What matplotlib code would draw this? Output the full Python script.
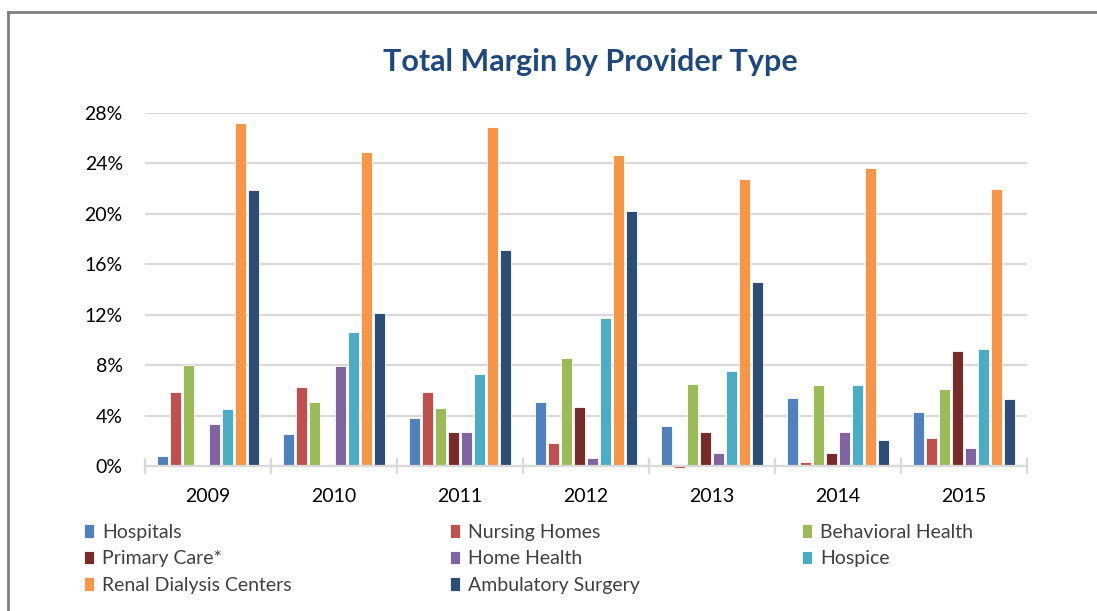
import numpy as np
import matplotlib
matplotlib.use('Agg')
import matplotlib.pyplot as plt
from matplotlib.lines import Line2D

# Data (percent)
years = ['2009', '2010', '2011', '2012', '2013', '2014', '2015']
series_names = ['Hospitals', 'Nursing Homes', 'Behavioral Health', 'Primary Care*',
                'Home Health', 'Hospice', 'Renal Dialysis Centers', 'Ambulatory Surgery']
hospitals = [0.8, 2.5, 3.8, 5.1, 3.2, 5.4, 4.3]
nursing_homes = [5.9, 6.3, 5.9, 1.8, -0.15, 0.3, 2.2]
behavioral_health = [8.0, 5.1, 4.6, 8.6, 6.5, 6.4, 6.1]
primary_care = [np.nan, np.nan, 2.7, 4.7, 2.7, 1.0, 9.1]
home_health = [3.3, 7.9, 2.7, 0.6, 1.0, 2.7, 1.4]
hospice = [4.5, 10.6, 7.3, 11.7, 7.5, 6.4, 9.3]
renal_dialysis = [27.2, 24.9, 26.9, 24.7, 22.8, 23.6, 22.0]
ambulatory_surgery = [21.9, 12.1, 17.1, 20.2, 14.6, 2.1, 5.3]

values = [hospitals, nursing_homes, behavioral_health, primary_care,
          home_health, hospice, renal_dialysis, ambulatory_surgery]
colors = ['#4F81BD', '#C0504D', '#9BBB59', '#772C2A',
          '#8064A2', '#4BACC6', '#F79646', '#2C4D75']

plt.rcParams['font.family'] = ['Lato', 'DejaVu Sans']

fig = plt.figure(figsize=(10.97, 6.11), dpi=100)
ax = fig.add_axes([145 / 1097, 1 - 466 / 611, (1027 - 145) / 1097, (466 - 113) / 611])

x = np.arange(len(years))
slot = 0.103
bars = []
for i, (vals, c) in enumerate(zip(values, colors)):
    offs = (i - 3.5) * slot
    b = ax.bar(x + offs, vals, width=slot * 0.86, color=c, edgecolor='white',
               linewidth=0.6, zorder=3, clip_on=False)
    bars.append(b)

ax.set_xlim(-0.5, len(years) - 0.5)
ax.set_ylim(0, 28)
ax.set_yticks(np.arange(0, 29, 4))
ax.set_yticklabels([f'{v}%' for v in range(0, 29, 4)])
ax.yaxis.grid(True, color='#D9D9D9', linewidth=1.6, zorder=0)
ax.set_axisbelow(True)

ax.set_xticks(x)
ax.set_xticklabels(years)
ax.set_xticks(np.arange(-0.5, len(years), 1), minor=True)
ax.tick_params(axis='x', which='major', length=0, pad=16, labelsize=14, labelcolor='black')
ax.tick_params(axis='x', which='minor', length=11, direction='inout', color='#D9D9D9', width=1.6)
ax.tick_params(axis='y', length=0, pad=16, labelsize=14, labelcolor='black')

for s in ['top', 'right', 'left']:
    ax.spines[s].set_visible(False)
ax.spines['bottom'].set_color('#D9D9D9')
ax.spines['bottom'].set_linewidth(1.6)
ax.spines['bottom'].set_zorder(4)

# Title
fig.text(590 / 1097, 1 - 62 / 611, 'Total Margin by Provider Type', ha='center', va='center',
         fontsize=22, fontweight='bold', color='#1F497D')

# Legend: three columns placed at fixed positions, row-major order as in the chart
col_items = [[0, 3, 6], [1, 4, 7], [2, 5]]
col_x = [84, 450, 802]
for cx, items in zip(col_x, col_items):
    leg = fig.legend([bars[i] for i in items], [series_names[i] for i in items],
                     loc='upper left', bbox_to_anchor=(cx / 1097, 1 - 524 / 611),
                     frameon=False, fontsize=14, handlelength=0.5, handleheight=0.7,
                     handletextpad=0.45, labelspacing=0.48, borderpad=0, borderaxespad=0,
                     labelcolor='#404040')

# Outer frame (left and top edges)
fig.add_artist(Line2D([8 / 1097, 8 / 1097], [0, 1 - 12 / 611], transform=fig.transFigure,
                      color='#808080', linewidth=2))
fig.add_artist(Line2D([8 / 1097, 1], [1 - 12 / 611, 1 - 12 / 611], transform=fig.transFigure,
                      color='#808080', linewidth=2))

fig.savefig('out.png', dpi=100)
